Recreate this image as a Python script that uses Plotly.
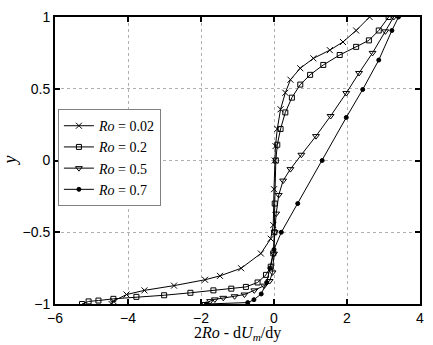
import plotly.graph_objects as go

# values: (2Ro - dU_m/dy, y) for each Ro
ro_labels = ["0.02", "0.2", "0.5", "0.7"]

x_ro002 = [2.62, 2.25, 1.89, 1.53, 1.08, 0.72, 0.45, 0.31, 0.18, 0.09, 0.04, 0.02,
           0.0, -0.02, -0.09, -0.36, -0.9, -1.48, -1.89, -2.74, -3.55, -4.04, -4.4, -4.45]
y_ro002 = [1.0, 0.906, 0.826, 0.769, 0.712, 0.643, 0.563, 0.472, 0.357, 0.22, 0.1, 0.0,
           -0.2, -0.45, -0.545, -0.648, -0.751, -0.804, -0.831, -0.872, -0.905, -0.934, -0.98, -1.0]

x_ro02 = [3.14, 2.87, 2.6, 2.25, 1.8, 1.35, 0.99, 0.72, 0.49, 0.31, 0.18, 0.09, 0.05,
          0.02, 0.01, -0.02, -0.09, -0.22, -0.45, -0.77, -1.17, -1.66, -2.29, -3.01,
          -3.77, -4.4, -4.81, -5.08, -5.26]
y_ro02 = [1.0, 0.906, 0.837, 0.792, 0.735, 0.666, 0.597, 0.529, 0.438, 0.335, 0.22, 0.11, 0.0,
          -0.3, -0.5, -0.647, -0.74, -0.797, -0.85, -0.881, -0.893, -0.905, -0.922, -0.939,
          -0.95, -0.964, -0.976, -0.982, -1.0]

x_ro05 = [3.28, 3.05, 2.7, 2.33, 1.98, 1.55, 1.15, 0.75, 0.45, 0.25, 0.13, 0.06, 0.02,
          0.0, -0.04, -0.12, -0.27, -0.54, -0.81, -1.08, -1.39, -1.62, -1.75, -1.89]
y_ro05 = [1.0, 0.9, 0.75, 0.61, 0.47, 0.31, 0.17, 0.04, -0.06, -0.14, -0.24, -0.37, -0.5,
          -0.65, -0.78, -0.84, -0.872, -0.905, -0.934, -0.946, -0.957, -0.968, -0.98, -1.0]

x_ro07 = [3.41, 3.23, 2.87, 2.43, 1.98, 1.32, 0.65, 0.2, 0.0, -0.11, -0.2, -0.35, -0.55,
          -0.72, -1.85]
y_ro07 = [1.0, 0.906, 0.7, 0.495, 0.3, 0.0, -0.3, -0.5, -0.62, -0.75, -0.85, -0.93, -0.97,
          -0.99, -1.0]

series = [
    (x_ro002, y_ro002, "x-thin-open", 6),
    (x_ro02, y_ro02, "square-open", 5),
    (x_ro05, y_ro05, "triangle-down-open", 6),
    (x_ro07, y_ro07, "circle", 4),
]

fig = go.Figure()
for label, (xs, ys, sym, size) in zip(ro_labels, series):
    fig.add_trace(go.Scatter(
        x=xs, y=ys, mode="lines+markers",
        name="<i>Ro</i> = " + label,
        line=dict(color="black", width=1),
        marker=dict(symbol=sym, size=size, color="black",
                    line=dict(color="black", width=1)),
    ))

axis_common = dict(
    showline=True, linecolor="black", linewidth=2, mirror="ticks",
    ticks="inside", ticklen=5, tickwidth=2, tickcolor="black",
    showgrid=True, gridcolor="#b0b0b0", griddash="dot", gridwidth=1,
    zeroline=False,
    tickfont=dict(family="Liberation Sans", size=14, color="black"),
)
fig.update_xaxes(range=[-6, 4], dtick=2, **axis_common)
fig.update_yaxes(range=[-1, 1], dtick=0.5, **axis_common)

# axis titles as annotations so they sit where the reference has them
title_font = dict(family="Liberation Serif", size=16, color="black")
fig.add_annotation(text="2<i>Ro</i> - d<i>U<sub>m</sub></i>/dy",
                   xref="paper", yref="paper", x=0.5, y=0, yanchor="bottom",
                   yshift=-41, showarrow=False, font=title_font)
fig.add_annotation(text="<i>y</i>", textangle=-90,
                   xref="paper", yref="paper", x=0, y=0.5, xanchor="right",
                   xshift=-34, showarrow=False,
                   font=dict(family="Liberation Serif", size=18, color="black"))

fig.update_layout(
    width=433, height=345,
    margin=dict(l=55, r=9, t=13, b=41),
    paper_bgcolor="white", plot_bgcolor="white",
    legend=dict(x=0.008, y=0.51, xanchor="left", yanchor="middle",
                bgcolor="white", bordercolor="#808080", borderwidth=1,
                font=dict(family="Liberation Serif", size=14, color="black"),
                tracegroupgap=0, itemwidth=30),
)

# drop the default page margin so the figure fills the 433x345 window
fig.write_html("out.html", config={"displayModeBar": False},
               post_script="document.body.style.margin='0';")
